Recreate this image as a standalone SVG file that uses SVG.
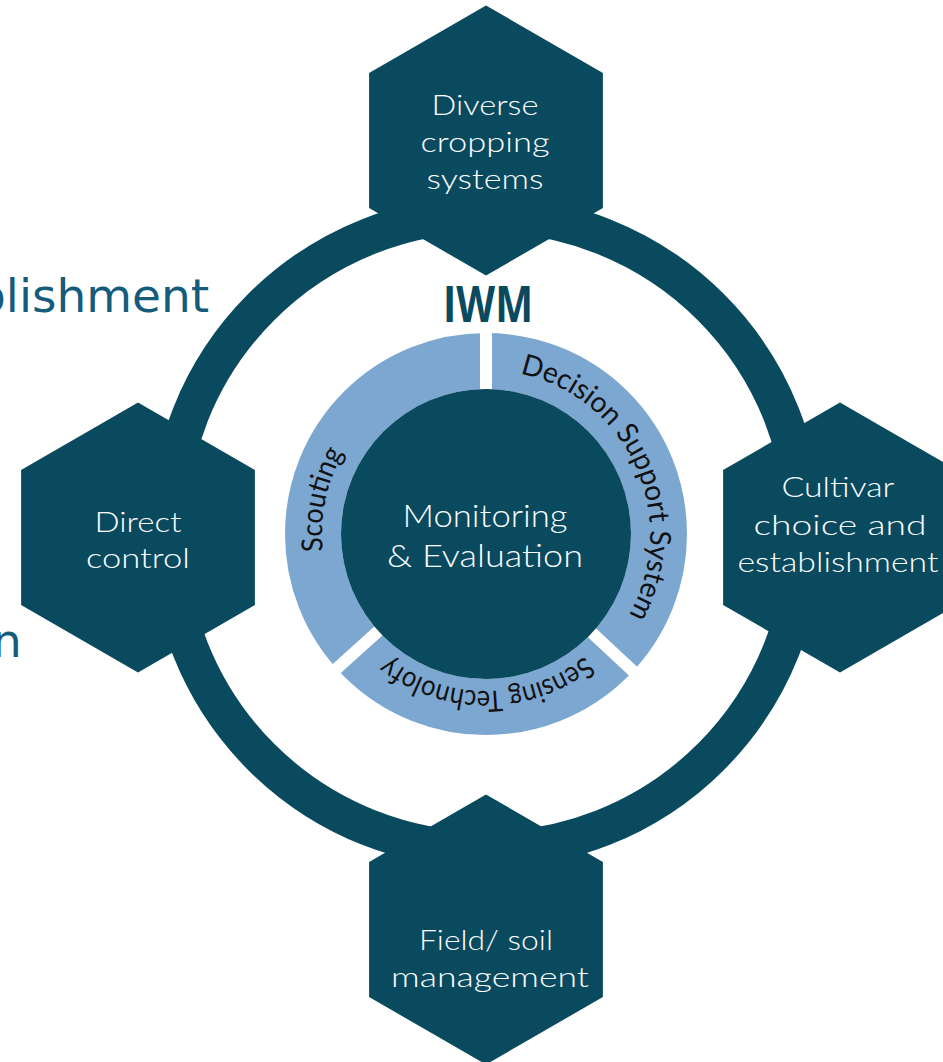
<svg xmlns="http://www.w3.org/2000/svg" width="943" height="1062" viewBox="0 0 943 1062">
  <defs>
    <style>
      .dark { fill: #0a4a5f; }
      .hex-label { font-family: Lato, "Liberation Sans", sans-serif; font-weight: 300; font-size: 27px; fill: #ffffff; text-anchor: middle; }
      .hub-label { font-family: Lato, "Liberation Sans", sans-serif; font-weight: 300; font-size: 31px; fill: #ffffff; text-anchor: middle; }
      .arc-label { font-family: Lato, "Liberation Sans", sans-serif; font-weight: 400; font-size: 29px; fill: #111111; }
      .bg-text { font-family: "DejaVu Sans", Verdana, sans-serif; font-size: 47px; fill: #155b7b; }
      .title { font-family: "Open Sans", "Liberation Sans", sans-serif; font-weight: 700; font-size: 51px; fill: #0a4a5f; text-anchor: middle; }
    </style>
    <!-- clockwise arcs used as baselines for the ring segment captions -->
    <path id="arc-dss" d="M520.1,373.6 A164,164 0 0 1 626.6,618.5" fill="none"/>
    <path id="arc-scout" d="M322.9,551.1 A164,164 0 0 1 344,452" fill="none"/>
    <path id="arc-sense" d="M584.8,656 A157,157 0 0 1 387.2,656" fill="none"/>
  </defs>

  <rect width="943" height="1062" fill="#ffffff"/>

  <!-- slide heading text showing behind the figure -->
  <text class="bg-text" x="-24" y="312">blishment</text>
  <text class="bg-text" x="-8" y="657">n</text>

  <!-- outer ring linking the four practice areas -->
  <g id="connectors">
    <circle cx="486" cy="532" r="318" fill="none" stroke="#0a4a5f" stroke-width="37"/>
  </g>

  <g id="node-cropping">
    <polygon class="dark" points="486,5.5 602.9,73 602.9,208 486,275.5 369.1,208 369.1,73"/>
    <text class="hex-label" x="485" y="115" textLength="107" lengthAdjust="spacingAndGlyphs">Diverse</text>
    <text class="hex-label" x="485" y="152" textLength="129" lengthAdjust="spacingAndGlyphs">cropping</text>
    <text class="hex-label" x="485" y="189" textLength="117" lengthAdjust="spacingAndGlyphs">systems</text>
  </g>

  <g id="node-cultivar">
    <polygon class="dark" points="840,402.5 956.9,470 956.9,605 840,672.5 723.1,605 723.1,470"/>
    <text class="hex-label" x="838" y="497" textLength="113" lengthAdjust="spacingAndGlyphs">Cultivar</text>
    <text class="hex-label" x="840" y="535" textLength="173" lengthAdjust="spacingAndGlyphs">choice and</text>
    <text class="hex-label" x="838" y="572" textLength="201" lengthAdjust="spacingAndGlyphs">establishment</text>
  </g>

  <g id="node-field">
    <polygon class="dark" points="486,794.5 602.9,862 602.9,997 486,1064.5 369.1,997 369.1,862"/>
    <text class="hex-label" x="486" y="950" textLength="134" lengthAdjust="spacingAndGlyphs">Field/ soil</text>
    <text class="hex-label" x="490" y="987" textLength="198" lengthAdjust="spacingAndGlyphs">management</text>
  </g>

  <g id="node-direct">
    <polygon class="dark" points="138,402.5 254.9,470 254.9,605 138,672.5 21.1,605 21.1,470"/>
    <text class="hex-label" x="138" y="532" textLength="87" lengthAdjust="spacingAndGlyphs">Direct</text>
    <text class="hex-label" x="138" y="568" textLength="104" lengthAdjust="spacingAndGlyphs">control</text>
  </g>

  <g id="title">
    <text class="title" x="488" y="322" textLength="90" lengthAdjust="spacingAndGlyphs">IWM</text>
  </g>

  <g id="node-monitoring">
    <!-- light segmented band -->
    <circle cx="486" cy="534" r="173" fill="none" stroke="#7ba7d1" stroke-width="56"/>
    <!-- white gaps between the three segments -->
    <g stroke="#ffffff" stroke-width="12">
      <line x1="486" y1="534" x2="486" y2="328"/>
      <line x1="486" y1="534" x2="636" y2="673.8"/>
      <line x1="486" y1="534" x2="333.7" y2="671.2"/>
    </g>
    <circle class="dark" cx="486" cy="534" r="145"/>
    <text class="hub-label" x="485" y="527" textLength="165" lengthAdjust="spacingAndGlyphs">Monitoring</text>
    <text class="hub-label" x="485" y="567" textLength="196" lengthAdjust="spacingAndGlyphs">&amp; Evaluation</text>
    <text class="arc-label"><textPath href="#arc-dss" textLength="308" lengthAdjust="spacingAndGlyphs">Decision Support System</textPath></text>
    <text class="arc-label"><textPath href="#arc-scout" textLength="102" lengthAdjust="spacingAndGlyphs">Scouting</textPath></text>
    <text class="arc-label"><textPath href="#arc-sense" textLength="212" lengthAdjust="spacingAndGlyphs">Sensing Technolofy</textPath></text>
  </g>
</svg>
